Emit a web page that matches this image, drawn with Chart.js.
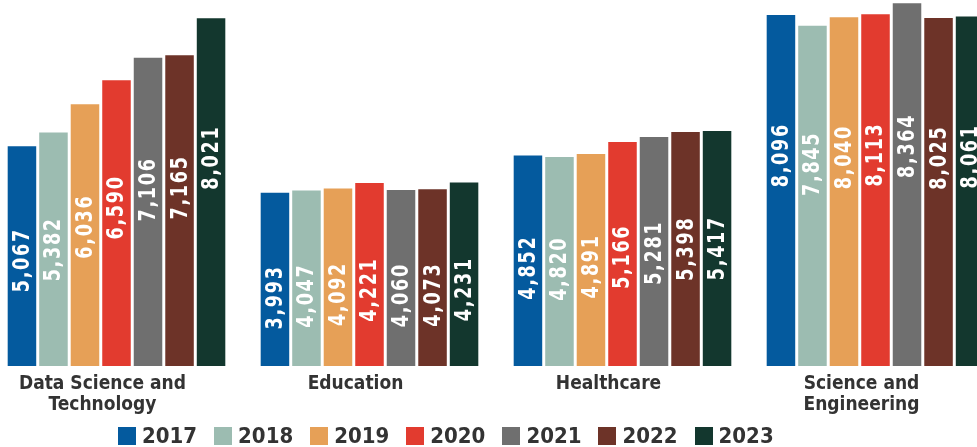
<!DOCTYPE html>
<html>
<head>
<meta charset="utf-8">
<script src="https://cdn.jsdelivr.net/npm/chart.js@4.4.1/dist/chart.umd.min.js"></script>
<style>
  html, body { margin: 0; padding: 0; background: #fff; overflow: hidden; }
  body { width: 977px; height: 447px; position: relative; }
  #wrap { position: absolute; left: -10px; top: 0; width: 1012px; height: 447px; }
  #legend { position: absolute; left: 118px; top: 426px; display: flex; gap: 17px;
    font-family: "Liberation Sans Narrow", "DejaVu Sans Condensed", sans-serif;
    font-weight: bold; font-size: 22px; color: #333; letter-spacing: 0px; line-height: 20px; }
  #legend span.item { display: flex; align-items: center; }
  #legend span.box { width: 18px; height: 18px; margin-right: 6px; display: inline-block; }
</style>
</head>
<body>
<div id="wrap"><canvas id="chart"></canvas></div>
<div id="legend"></div>
<script>
const categories = [['Data Science and', 'Technology'], 'Education', 'Healthcare', ['Science and', 'Engineering']];
const years = ['2017', '2018', '2019', '2020', '2021', '2022', '2023'];
const colors = ['#045a9e', '#9cbcb1', '#e6a057', '#e23b2f', '#6f6f6f', '#6d3328', '#13372e'];

const v2017 = [5067, 3993, 4852, 8096];
const v2018 = [5382, 4047, 4820, 7845];
const v2019 = [6036, 4092, 4891, 8040];
const v2020 = [6590, 4221, 5166, 8113];
const v2021 = [7106, 4060, 5281, 8364];
const v2022 = [7165, 4073, 5398, 8025];
const v2023 = [8021, 4231, 5417, 8061];
const series = [v2017, v2018, v2019, v2020, v2021, v2022, v2023];

const FONT = '"Liberation Sans Narrow", "DejaVu Sans Condensed", sans-serif';

// vertical white value labels inside the bars
const barLabels = {
  id: 'barLabels',
  afterDatasetsDraw(chart) {
    const ctx = chart.ctx;
    chart.data.datasets.forEach((ds, i) => {
      const meta = chart.getDatasetMeta(i);
      meta.data.forEach((bar, j) => {
        const h = bar.base - bar.y;
        let cy = bar.base + 70 - 0.8 * h;
        cy = Math.max(bar.y + 32, Math.min(bar.base - 32, cy));
        ctx.save();
        ctx.translate(bar.x + 1, cy);
        ctx.rotate(-Math.PI / 2);
        ctx.scale(0.85, 1);
        ctx.font = 'bold 23px ' + FONT;
        ctx.letterSpacing = '2px';
        ctx.fillStyle = '#ffffff';
        ctx.textAlign = 'center';
        ctx.textBaseline = 'middle';
        ctx.fillText(ds.data[j].toLocaleString('en-US'), 0, 0);
        ctx.restore();
      });
    });
  }
};

const chart = new Chart(document.getElementById('chart'), {
  type: 'bar',
  data: {
    labels: categories,
    datasets: years.map((y, i) => ({
      label: y,
      data: series[i],
      backgroundColor: colors[i],
      categoryPercentage: 0.872,
      barPercentage: 0.905
    }))
  },
  options: {
    responsive: true,
    maintainAspectRatio: false,
    animation: false,
    layout: { padding: 0 },
    plugins: {
      legend: { display: false },
      tooltip: { enabled: false }
    },
    scales: {
      x: {
        grid: { display: false },
        border: { display: false },
        ticks: {
          color: '#333',
          padding: 0,
          labelOffset: -14,
          font: { family: FONT, size: 19, weight: 'bold', lineHeight: 1.1 }
        },
        afterFit(scale) { scale.height = 81; }
      },
      y: {
        display: false,
        min: 0,
        max: 8440
      }
    }
  },
  plugins: [barLabels]
});

// legend
const legend = document.getElementById('legend');
years.forEach((y, i) => {
  const item = document.createElement('span');
  item.className = 'item';
  item.innerHTML = `<span class="box" style="background:${colors[i]}"></span>${y}`;
  legend.appendChild(item);
});
</script>
</body>
</html>
